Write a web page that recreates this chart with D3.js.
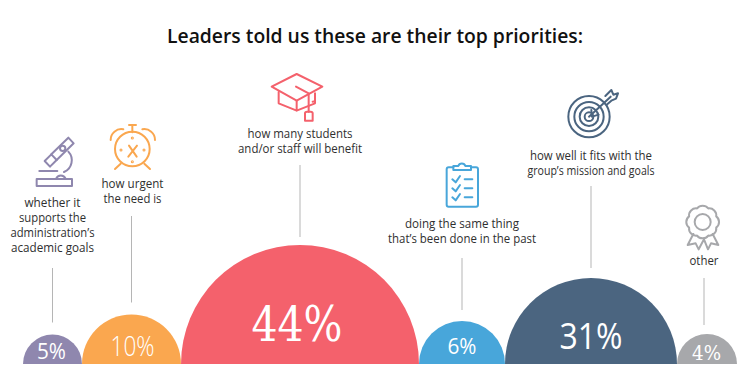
<!DOCTYPE html>
<html><head><meta charset="utf-8">
<script src="https://cdn.jsdelivr.net/npm/d3@7"></script>
<style>html,body{margin:0;padding:0;background:#fff}svg{display:block}</style></head>
<body><svg id="c" width="750" height="383"></svg>
<script>
const titleText = "Leaders told us these are their top priorities:";
const categories = ["academic","urgent","benefit","same","mission","other"];
const values = [5,10,44,6,31,4];
const valueLabels = ["5%","10%","44%","6%","31%","4%"];
const colors = ["#8f87ae","#faa74f","#f4616c","#48a6da","#4b6580","#a7a8ab"];
const labelLines = [
  ["whether it","supports the","administration’s","academic goals"],
  ["how urgent","the need is"],
  ["how many students","and/or staff will benefit"],
  ["doing the same thing","that’s been done in the past"],
  ["how well it fits with the","group’s mission and goals"],
  ["other"]
];

const W=750, baseY=364, startX=23;
const svg=d3.select("#c");
const r=d3.scaleLinear().domain([4,5,6,10,31,44]).range([30,29.5,43,49.5,86,119]);
let acc=startX;
const centers=values.map(v=>{const c=acc+r(v);acc+=2*r(v);return c;});
const arc=d3.arc().innerRadius(0).startAngle(-Math.PI/2).endAngle(Math.PI/2);

svg.append("text").attr("x",375).attr("y",43).attr("text-anchor","middle")
  .attr("font-family","Open Sans").attr("font-weight",600).attr("font-size",20).attr("fill","#111")
  .attr("textLength",416).attr("lengthAdjust","spacingAndGlyphs").text(titleText);

svg.selectAll("path.semi").data(values).join("path").attr("class","semi")
  .attr("transform",(d,i)=>`translate(${centers[i]},${baseY})`)
  .attr("d",d=>arc({outerRadius:r(d)})).attr("fill",(d,i)=>colors[i]);

const labelBottom=[268,216,165,258,186,278];
const leaderGap=[12,12,8,11,10,9];
const leaderDx=[0,0,0,0,0,-3];
svg.selectAll("line.lead").data(values).join("line").attr("class","lead")
  .attr("x1",(d,i)=>centers[i]+leaderDx[i]).attr("x2",(d,i)=>centers[i]+leaderDx[i])
  .attr("y1",(d,i)=>labelBottom[i])
  .attr("y2",(d,i)=>baseY-r(d)-leaderGap[i])
  .attr("stroke","#b5b5b5").attr("stroke-width",1);

const firstBase=[207,188,138,228,159.5,265];
const labelDx=[0,1,0,0,0,-3];
const labelWidths=[[56,67,84,83],[62,58],[105,124],[114,148],[122,127],[29]];
labelLines.forEach((lines,i)=>{
  const t=svg.append("g").attr("font-family","Open Sans").attr("font-size",11.8).attr("fill","#2f2f2f").attr("text-anchor","middle");
  lines.forEach((s,j)=>{
    t.append("text").attr("x",centers[i]+labelDx[i]).attr("y",firstBase[i]+j*15)
     .attr("textLength",labelWidths[i][j]).attr("lengthAdjust","spacingAndGlyphs").text(s);
  });
});

const vSize=[21,28,49,22,37,20];
const vFont=["Open Sans","Open Sans","DejaVu Serif","Open Sans","Open Sans","DejaVu Serif"];
const vWeight=[400,300,400,400,400,400];
const vLen=[29,44,91,29,63,29];
const vBase=[359,356,341,354,349,360];
const vDx=[-1,1,-3,0,0,-0.5];
valueLabels.forEach((t,i)=>{
  svg.append("text").attr("x",centers[i]+vDx[i]).attr("y",vBase[i]).attr("text-anchor","middle")
   .attr("font-family",vFont[i]).attr("font-size",vSize[i]).attr("font-weight",vWeight[i]).attr("fill","#fff")
   .attr("textLength",vLen[i]).attr("lengthAdjust","spacingAndGlyphs").text(t);
});

function icon(ox,oy,col){return svg.append("g").attr("transform",`translate(${ox},${oy}) scale(${1/3})`)
  .attr("fill","none").attr("stroke",col).attr("stroke-width",6).attr("stroke-linecap","round").attr("stroke-linejoin","round");}
function P(g,d){g.append("path").attr("d",d);}
function C(g,x,y,rr){g.append("circle").attr("cx",x).attr("cy",y).attr("r",rr);}

let g=icon(0,100,colors[0]);
P(g,"M110 237H216V258H110Z");
P(g,"M118 213H172");
P(g,"M168 237A16 18 0 0 1 197 237");
P(g,"M205 155A38 38 0 0 1 192 216");
P(g,"M134 183L150 200L170 180L154 163Z");
P(g,"M154 163L205 113L221 130L170 180");
C(g,188,145,8);

g=icon(0,100,colors[1]);
C(g,397,147,52);
P(g,"M332 120A32 32 0 0 1 370 88");
P(g,"M465 120A32 32 0 0 0 427 88");
P(g,"M397 76V97M387 75H408");
P(g,"M345 207L362 191M450 207L433 191");
P(g,"M387 137L410 170M411 137L385 170");
[[397,114],[397,185],[363,150],[432,150]].forEach(p=>{g.append("circle").attr("cx",p[0]).attr("cy",p[1]).attr("r",1.6);});

g=icon(230,60,colors[2]);
P(g,"M125 80L200 42L277 80L200 122Z");
P(g,"M146 96V130L200 152L200 122M200 152L255 130L255 100");
P(g,"M198 80L236 100V155");
P(g,"M225 160Q225 155 231 155H242Q248 155 248 160V182H225Z");
P(g,"M255 124L248 125");

g=icon(390,80,colors[3]);
P(g,"M190 262H176Q170 262 170 268V374Q170 380 176 380H258Q264 380 264 374V268Q264 262 258 262H244");
P(g,"M190 270V258H205A11 11 0 0 1 226 258H243V270Z");
[298,325,352].forEach(y=>{
  P(g,`M187 ${y}L197 ${y+9}L210 ${y-10}`);
  P(g,`M224 ${y}H247`);
});

g=icon(390,80,colors[4]);
C(g,597,110,62);C(g,597,110,44);C(g,597,110,28);C(g,597,110,13);
P(g,"M597 110L662 50");
P(g,"M604 90L606 110L626 104");
P(g,"M646 48L664 30L670 44L684 40L678 56L664 62L650 74");

g=icon(640,190,colors[5]);
C(g,188,96,24);
const scallop=d3.range(0,8).map(i=>{const a=(i+0.5)/8*2*Math.PI;return [188+44*Math.cos(a),96+44*Math.sin(a)];});
let sd=`M${scallop[0]}`;
d3.range(1,9).forEach(i=>{const p=scallop[i%8];sd+=`A21 21 0 0 1 ${p}`;});
P(g,sd);
P(g,"M160 132L143 165L167 160L176 178L192 148L204 178L213 160L235 165L218 132");
</script></body></html>
